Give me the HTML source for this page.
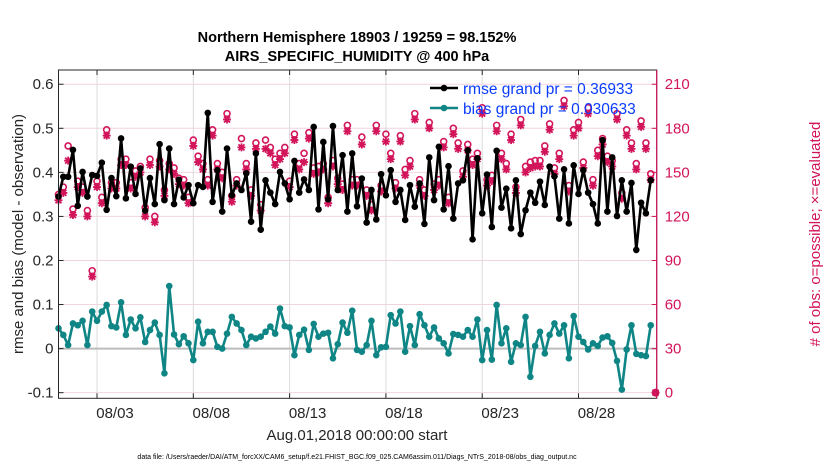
<!DOCTYPE html>
<html><head><meta charset="utf-8"><style>
body{margin:0;background:#fff;}
svg{display:block;font-family:"Liberation Sans",sans-serif;}
</style></head><body>
<svg id="chart" width="830" height="470" viewBox="0 0 830 470"></svg>
<script>
const rmse=[.345,.390,.390,.451,.324,.401,.345,.394,.392,.422,.315,.387,.346,.477,.341,.413,.351,.409,.313,.387,.328,.464,.337,.454,.328,.383,.343,.371,.330,.371,.367,.535,
.333,.405,.311,.454,.348,.375,.360,.398,.288,.443,.270,.382,.354,.328,.401,.375,.339,.426,.354,.384,.360,.503,.316,.469,.339,.505,.360,.439,.311,.443,.323,
.386,.286,.360,.293,.396,.348,.405,.333,.360,.292,.371,.322,.375,.283,.434,.337,.458,.316,.414,.295,.375,.382,.450,.248,.432,.307,.395,.276,.449,.320,.363,
.273,.382,.260,.314,.354,.331,.379,.326,.413,.391,.295,.407,.284,.416,.351,.405,.354,.328,.284,.473,.311,.434,.301,.382,.311,.376,.224,.331,.307,.382];
const bias=[.046,.031,.008,.057,.053,.063,.008,.084,.063,.084,.099,.051,.048,.105,.031,.066,.046,.071,.015,.042,.059,.031,-.056,.142,.032,.010,.028,.012,-.026,.061,.012,.038,
.038,.004,0,.034,.072,.057,.042,.008,.027,.023,.027,.038,.050,.034,.091,.051,.048,-.015,.031,.043,-.003,.056,.027,.034,.036,-.022,.010,.059,.036,.086,-.003,
-.007,.008,.063,-.015,.003,.004,.076,.057,.084,-.007,.051,.008,.078,.053,.027,.048,.023,.012,-.011,.033,.031,.027,.042,.027,.066,-.026,.042,-.025,.099,.012,.046,
-.030,.012,.008,.072,-.064,.006,.038,-.011,.031,.057,.034,.053,-.022,.074,.027,.015,-.002,.012,.006,.025,.028,.013,-.028,-.093,-.002,.053,-.012,-.015,-.017,.053];
const nEval=[131,136,158,121,140,136,120,79,140,129,175,139,139,155,155,139,147,150,120,155,116,154,134,152,149,142,141,129,168,157,152,141,
175,152,146,186,130,141,167,152,134,166,124,166,163,155,159,163,140,172,152,157,173,149,150,152,129,154,142,138,178,141,141,
169,134,124,178,137,171,159,139,171,148,154,186,141,134,180,138,141,167,129,176,166,147,165,155,159,190,141,144,178,159,152,
172,136,182,150,153,154,154,164,179,149,159,195,137,175,180,153,190,141,161,169,157,154,186,132,175,166,152,181,166,145,0];
const nPoss=[135,140,168,125,144,140,124,83,144,133,179,143,143,159,159,143,151,154,126,159,120,158,138,156,153,146,145,133,172,161,156,145,
179,156,150,190,134,145,173,156,138,170,128,172,167,159,163,167,144,176,156,163,177,153,154,156,133,158,146,142,182,145,145,
174,138,128,182,141,176,163,143,175,152,158,190,145,138,184,142,145,171,133,180,170,151,169,159,163,194,145,148,182,163,156,
176,140,186,154,157,158,158,168,183,153,163,199,141,179,184,157,194,145,165,173,161,158,190,136,179,170,156,185,170,149,0];
const leftTicks=["-0.1","0","0.1","0.2","0.3","0.4","0.5","0.6"];
const leftTickVals=[-0.1,0,0.1,0.2,0.3,0.4,0.5,0.6];
const rightTickVals=[0,30,60,90,120,150,180,210];
const xTickLabels=["08/03","08/08","08/13","08/18","08/23","08/28"];
const xTickDays=[2,7,12,17,22,27];
const stepDays=0.25;

const svg=document.getElementById('chart');
const NS='http://www.w3.org/2000/svg';
const L=58.5,R=656.7,T=70,B=398.3;
const DAYMAX=31.06;
const X=d=>L+(d/DAYMAX)*(R-L);
const Y=v=>348.6-v*440.6;
const Yr=c=>Y(c/300-0.1);
const PINK='#d2145a',TEAL='#0f8585';
function mk(tag,attrs,parent){const e=document.createElementNS(NS,tag);for(const k in attrs)e.setAttribute(k,attrs[k]);(parent||svg).appendChild(e);return e;}

mk('rect',{x:L,y:T,width:R-L,height:B-T,fill:'#fff'});
// gridlines
const grid=mk('g',{});


leftTickVals.forEach(v=>mk('line',{x1:L,x2:R,y1:Y(v),y2:Y(v),stroke:'#f2d4df','stroke-width':1},grid));
xTickDays.forEach(d=>mk('line',{x1:X(d),x2:X(d),y1:T,y2:B,stroke:'#dcdcdc','stroke-width':1},grid));
const zl=mk('line',{x1:L,x2:R,y1:Y(0),y2:Y(0),stroke:'#bcbcbc','stroke-width':2});



// pink counts
const pg=mk('g',{});


nPoss.forEach((c,i)=>{const cx=X(i*stepDays),cy=Yr(c);
 const e=mk('circle',{cx:cx,cy:cy,r:3,fill:'none',stroke:PINK,'stroke-width':1.6},pg);
 
 });
nEval.forEach((c,i)=>{const cx=X(i*stepDays),cy=Yr(c),s=4;
 const p=mk('path',{d:`M${cx-s} ${cy}H${cx+s}M${cx} ${cy-s}V${cy+s}M${cx-3} ${cy-3}L${cx+3} ${cy+3}M${cx-3} ${cy+3}L${cx+3} ${cy-3}`,stroke:PINK,'stroke-width':1.8},pg);
 
 });

function series(arr,color,name){
 const g=mk('g',{});
 
 
 mk('polyline',{points:arr.map((v,i)=>X(i*stepDays)+','+Y(v)).join(' '),fill:'none',stroke:color,'stroke-width':2.6,'stroke-linejoin':'round'},g);
 arr.forEach((v,i)=>{const c=mk('circle',{cx:X(i*stepDays),cy:Y(v),r:3.3,fill:color},g);
  
  });
}
series(bias,TEAL,'bias-series');
series(rmse,'#000','rmse-series');

// axes
mk('rect',{x:L,y:T,width:R-L,height:B-T,fill:'none',stroke:'#262626','stroke-width':1});
mk('line',{x1:R,x2:R,y1:T,y2:B,stroke:PINK,'stroke-width':1.2});
const lt=mk('g',{'font-size':15,fill:'#262626','text-anchor':'end'});


leftTickVals.forEach((v,i)=>{mk('line',{x1:L,x2:L+5,y1:Y(v),y2:Y(v),stroke:'#262626'},lt);
 const t=mk('text',{x:L-5,y:Y(v)+5},lt);t.textContent=leftTicks[i];});
const rt=mk('g',{'font-size':15,fill:PINK});


rightTickVals.forEach(c=>{mk('line',{x1:R-5,x2:R,y1:Yr(c),y2:Yr(c),stroke:PINK},rt);
 const t=mk('text',{x:R+8,y:Yr(c)+5},rt);t.textContent=c;});
const xt=mk('g',{'font-size':15,fill:'#262626'});


xTickDays.forEach((d,i)=>{mk('line',{x1:X(d),x2:X(d),y1:B-5,y2:B,stroke:'#262626'},xt);mk('line',{x1:X(d),x2:X(d),y1:T,y2:T+5,stroke:'#262626'},xt);
 const t=mk('text',{x:X(d)+18,y:418,'text-anchor':'middle'},xt);t.textContent=xTickLabels[i];});
</script>
<svg width="830" height="470" style="position:absolute;left:0;top:0" font-family="Liberation Sans, sans-serif">
<text x="357" y="42" text-anchor="middle" font-size="14.5" font-weight="bold" fill="#000">Northern Hemisphere 18903 / 19259 = 98.152%</text>
<text x="357" y="61" text-anchor="middle" font-size="14.5" font-weight="bold" fill="#000">AIRS_SPECIFIC_HUMIDITY @ 400 hPa</text>
<text transform="translate(23,234) rotate(-90)" text-anchor="middle" font-size="15" fill="#262626">rmse and bias (model - observation)</text>
<text transform="translate(820,234) rotate(-90)" text-anchor="middle" font-size="15" fill="#d2145a"># of obs: o=possible; ×=evaluated</text>
<text x="357" y="440" text-anchor="middle" font-size="15" fill="#262626">Aug.01,2018 00:00:00 start</text>
<text x="357" y="459" text-anchor="middle" font-size="7" fill="#000">data file: /Users/raeder/DAI/ATM_forcXX/CAM6_setup/f.e21.FHIST_BGC.f09_025.CAM6assim.011/Diags_NTrS_2018-08/obs_diag_output.nc</text>
<g>
<g>
<line x1="430" x2="458" y1="88" y2="88" stroke="#000" stroke-width="2.6"/><circle cx="444" cy="88" r="3.3" fill="#000"/>
<text x="463" y="94" font-size="15.5" fill="#0a3cff">rmse grand pr = 0.36933</text></g>
<g>
<line x1="430" x2="458" y1="108" y2="108" stroke="#0f8585" stroke-width="2.6"/><circle cx="444" cy="108" r="3.3" fill="#0f8585"/>
<text x="463" y="114" font-size="15.5" fill="#0a3cff">bias grand pr = 0.030633</text></g>
</g>
</svg>
</body></html>
